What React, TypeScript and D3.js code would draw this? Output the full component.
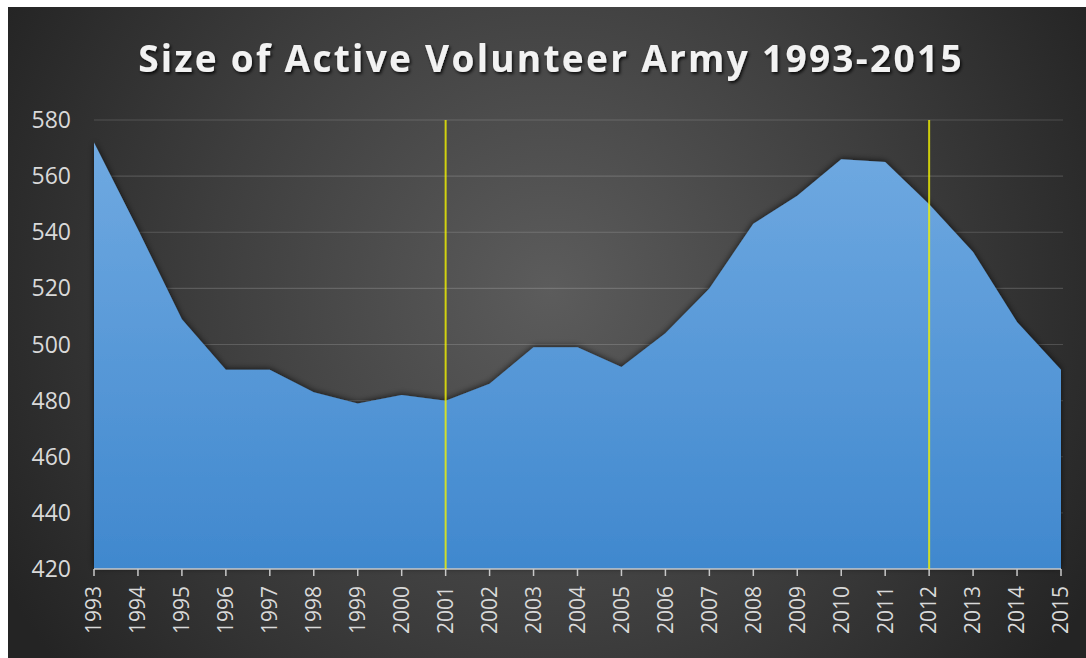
import React from "react";
import * as d3 from "d3";

const years: number[] = [1993,1994,1995,1996,1997,1998,1999,2000,2001,2002,2003,2004,2005,2006,2007,2008,2009,2010,2011,2012,2013,2014,2015];
const strength: number[] = [572,541,509,491,491,483,479,482,480,486,499,499,492,504,520,543,553,566,565,550,533,508,491];
const yTicks: number[] = [420,440,460,480,500,520,540,560,580];
const markerYears: number[] = [2001, 2012];
const title = "Size of Active Volunteer Army 1993-2015";

const W = 1086, H = 658;
const frame = { x: 8, y: 7 };
const plot = { left: 94, right: 1061, top: 120, bottom: 569 };

export default function App() {
  const x = d3.scaleLinear().domain([1993, 2015]).range([plot.left, plot.right]);
  const y = d3.scaleLinear().domain([420, 580]).range([plot.bottom, plot.top]);
  const data = years.map((yr, i) => ({ yr, v: strength[i] }));
  const area = d3.area<{ yr: number; v: number }>()
    .x(d => x(d.yr))
    .y0(y(420))
    .y1(d => y(d.v));

  return (
    <svg width={W} height={H} style={{ position: "absolute", left: 0, top: 0 }}>
      <defs>
        <radialGradient id="bg" cx="550" cy="290" r="620" gradientUnits="userSpaceOnUse">
          <stop offset="0" stopColor="#5c5c5c" />
          <stop offset="0.55" stopColor="#3e3e3e" />
          <stop offset="1" stopColor="#242424" />
        </radialGradient>
        <linearGradient id="areaFill" x1="0" y1={plot.top} x2="0" y2={plot.bottom} gradientUnits="userSpaceOnUse">
          <stop offset="0" stopColor="#72abe2" />
          <stop offset="1" stopColor="#4088ce" />
        </linearGradient>
        <filter id="areaShadow" x="-5%" y="-10%" width="110%" height="120%">
          <feDropShadow dx="0" dy="-1" stdDeviation="3" floodColor="#000" floodOpacity="0.65" />
        </filter>
        <filter id="titleShadow" x="-5%" y="-30%" width="110%" height="160%">
          <feDropShadow dx="1.5" dy="2" stdDeviation="1.5" floodColor="#000" floodOpacity="0.8" />
        </filter>
      </defs>
      <rect x={0} y={0} width={W} height={H} fill="#ffffff" />
      <rect x={frame.x} y={frame.y} width={W - frame.x} height={H - frame.y} fill="url(#bg)" />

      {/* gridlines */}
      {yTicks.filter(t => t !== 420).map(t => (
        <line key={t} x1={plot.left} x2={plot.right + 2} y1={y(t)} y2={y(t)} stroke="#ffffff" strokeOpacity={0.16} strokeWidth={1.2} />
      ))}

      {/* area */}
      <path d={area(data) || ""} fill="url(#areaFill)" filter="url(#areaShadow)" />

      {/* y labels */}
      {yTicks.map(t => (
        <text key={t} x={71} y={y(t)} dy="0.35em" textAnchor="end" fill="#d9d9d9"
          style={{ fontFamily: "'Open Sans', sans-serif", fontSize: 23 }}>{t}</text>
      ))}

      {/* x axis */}
      <line x1={plot.left} x2={plot.right} y1={plot.bottom} y2={plot.bottom} stroke="#c8c8c8" strokeWidth={1.5} />
      {years.map(yr => (
        <g key={yr}>
          <line x1={x(yr)} x2={x(yr)} y1={plot.bottom} y2={plot.bottom + 7} stroke="#c8c8c8" strokeWidth={1.5} />
          <text transform={`translate(${x(yr)},${586}) rotate(-90)`} dy="0.35em" textAnchor="end" fill="#d9d9d9"
            style={{ fontFamily: "'Open Sans', sans-serif", fontSize: 21 }}>{yr}</text>
        </g>
      ))}

      {/* marker lines */}
      {markerYears.map(yr => (
        <line key={yr} x1={x(yr)} x2={x(yr)} y1={y(580)} y2={y(420)} stroke="#f2f200" strokeOpacity={0.8} strokeWidth={2} />
      ))}

      {/* title */}
      <text x={551} y={72} textAnchor="middle" fill="#f2f2f2" filter="url(#titleShadow)"
        style={{ fontFamily: "'Open Sans', sans-serif", fontSize: 37, fontWeight: 700, letterSpacing: 2.3 }}>{title}</text>
    </svg>
  );
}
